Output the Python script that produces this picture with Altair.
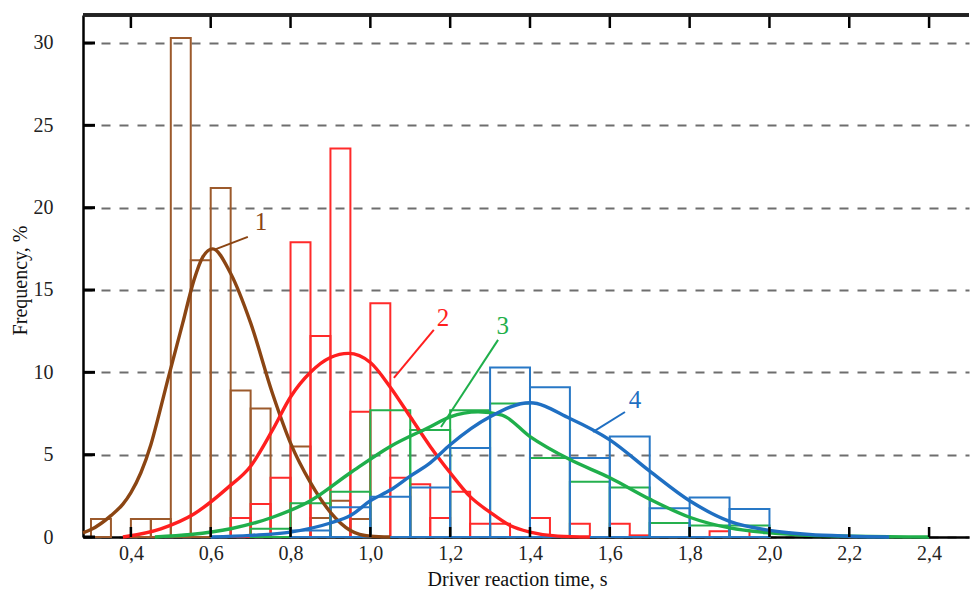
import altair as alt
import pandas as pd

# ---------------- data ----------------
series_names = ["1", "2", "3", "4"]
curve_colors = ["#8B4513", "#FF1F1F", "#1FAF4B", "#1F6FC2"]
bar_colors = ["#9C5A2C", "#FF2A2A", "#25B04E", "#2878C6"]

# histograms (bin start, bin value %)
brown_bin_w = 0.05
brown_start = [0.30, 0.40, 0.45, 0.50, 0.55, 0.60, 0.65, 0.70, 0.80, 0.85, 0.90, 0.95]
brown_value = [1.1, 1.1, 1.1, 30.3, 16.8, 21.2, 8.9, 7.8, 5.5, 1.15, 2.2, 1.1]

red_bin_w = 0.05
red_start = [0.65, 0.70, 0.75, 0.80, 0.85, 0.90, 0.95, 1.00, 1.05, 1.10, 1.15, 1.20, 1.25,
             1.30, 1.40, 1.50, 1.60, 1.65, 1.85, 1.95]
red_value = [1.15, 2.0, 3.6, 17.9, 12.2, 23.6, 7.6, 14.2, 3.6, 3.2, 1.15, 2.75, 0.8,
             0.8, 1.15, 0.8, 0.8, 0.1, 0.35, 0.35]

green_bin_w = 0.1
green_start = [0.7, 0.8, 0.9, 1.0, 1.1, 1.2, 1.3, 1.4, 1.5, 1.6, 1.7, 1.8, 1.9]
green_value = [0.5, 2.05, 2.75, 7.7, 6.5, 7.7, 8.1, 4.8, 3.35, 3.0, 0.85, 0.7, 0.7]

blue_bin_w = 0.1
blue_start = [0.8, 0.9, 1.0, 1.1, 1.2, 1.3, 1.4, 1.5, 1.6, 1.7, 1.8, 1.9]
blue_value = [0.4, 1.8, 2.45, 3.0, 5.4, 10.3, 9.1, 4.8, 6.1, 1.75, 2.4, 1.7]

# fitted curves
brown_cx = [0.28, 0.30, 0.35, 0.38, 0.40, 0.425, 0.45, 0.47, 0.493, 0.53, 0.558, 0.58,
            0.605, 0.65, 0.70, 0.755, 0.80, 0.85, 0.90, 0.95, 1.00, 1.05]
brown_cy = [0.25, 0.45, 1.3, 2.0, 2.7, 3.9, 5.6, 7.4, 9.6, 13.0, 15.6, 17.0,
            17.5, 16.0, 13.0, 8.7, 5.7, 3.3, 1.5, 0.4, 0.05, 0.0]

red_cx = [0.38, 0.475, 0.558, 0.643, 0.70, 0.755, 0.80, 0.85, 0.90, 0.945, 1.00, 1.05,
          1.10, 1.15, 1.20, 1.25, 1.30, 1.35, 1.40, 1.47, 1.55]
red_cy = [0.0, 0.5, 1.4, 3.0, 4.3, 6.5, 8.5, 10.0, 10.9, 11.15, 10.6, 9.1,
          7.3, 5.5, 3.9, 2.45, 1.5, 0.7, 0.3, 0.05, 0.0]

green_cx = [0.46, 0.55, 0.65, 0.755, 0.85, 0.95, 1.05, 1.15, 1.20, 1.27, 1.33, 1.40,
            1.50, 1.60, 1.70, 1.80, 1.90, 2.00, 2.10, 2.20, 2.40]
green_cy = [0.0, 0.15, 0.5, 1.2, 2.2, 3.9, 5.5, 6.7, 7.3, 7.6, 7.4, 6.1,
            4.7, 3.6, 2.3, 1.2, 0.55, 0.25, 0.1, 0.05, 0.0]

blue_cx = [0.60, 0.70, 0.80, 0.90, 0.95, 1.00, 1.05, 1.10, 1.15, 1.20, 1.30, 1.40, 1.50,
           1.60, 1.70, 1.80, 1.90, 2.00, 2.10, 2.20, 2.30]
blue_cy = [0.0, 0.1, 0.3, 0.85, 1.3, 2.2, 2.85, 3.7, 4.5, 5.6, 7.3, 8.15, 7.2,
           5.9, 4.0, 2.2, 0.95, 0.4, 0.15, 0.05, 0.0]

# curve labels with leader lines
label_text = ["1", "2", "3", "4"]
leader_x1 = [0.608, 1.059, 1.177, 1.558]
leader_y1 = [17.44, 9.66, 6.68, 6.38]
leader_x2 = [0.693, 1.159, 1.320, 1.638]
leader_y2 = [18.23, 12.58, 11.97, 7.59]
label_x = [0.726, 1.182, 1.332, 1.663]
label_y = [19.1, 13.3, 12.8, 8.3]

x_ticks = [0.4, 0.6, 0.8, 1.0, 1.2, 1.4, 1.6, 1.8, 2.0, 2.2, 2.4]
y_ticks = [0, 5, 10, 15, 20, 25, 30]

x_title = "Driver reaction time, s"
y_title = "Frequency, %"

# ---------------- tables ----------------
rows = []
for name, starts, vals, w in [
    ("1", brown_start, brown_value, brown_bin_w),
    ("2", red_start, red_value, red_bin_w),
    ("3", green_start, green_value, green_bin_w),
    ("4", blue_start, blue_value, blue_bin_w),
]:
    for s, v in zip(starts, vals):
        rows.append({"series": name, "start": s, "end": round(s + w, 3), "value": v, "base": 0})
bars_df = pd.DataFrame(rows)

crow = []
for name, xs_, ys_ in [
    ("1", brown_cx, brown_cy),
    ("2", red_cx, red_cy),
    ("3", green_cx, green_cy),
    ("4", blue_cx, blue_cy),
]:
    for i, (a, b) in enumerate(zip(xs_, ys_)):
        crow.append({"series": name, "t": a, "f": b, "i": i})
curves_df = pd.DataFrame(crow)

labels_df = pd.DataFrame({
    "series": label_text, "x1": leader_x1, "y1": leader_y1, "x2": leader_x2,
    "y2": leader_y2, "lx": label_x, "ly": label_y,
})
xt_df = pd.DataFrame({"v": x_ticks})
yt_df = pd.DataFrame({"v": y_ticks})

# ---------------- chart ----------------
W, H = 886, 522
FONT = "Liberation Serif"
xs = alt.Scale(domain=[0.28, 2.5], nice=False, zero=False)
ys = alt.Scale(domain=[0, 31.7], nice=False, zero=False)
cs = alt.Scale(domain=series_names, range=curve_colors)
bs = alt.Scale(domain=series_names, range=bar_colors)

x_axis = alt.Axis(
    values=x_ticks, grid=False, ticks=False, domain=True, domainColor="black",
    domainWidth=2.5, labelExpr="replace(format(datum.value, '.1f'), '.', ',')",
    labelFont=FONT, labelFontSize=20, labelColor="#222", labelPadding=6,
    title=x_title, titleFont=FONT, titleFontSize=20, titleFontWeight="normal",
    titleColor="#111", titleX=434, titleY=48, titleBaseline="alphabetic",
)
y_axis = alt.Axis(
    values=y_ticks, grid=True, gridDash=[9, 9], gridColor="#6e6e6e", gridWidth=2,
    ticks=False, domain=True, domainColor="black", domainWidth=2.5,
    labelFont=FONT, labelFontSize=20, labelColor="#222", labelPadding=30,
    title=y_title, titleFont=FONT, titleFontSize=20, titleFontWeight="normal",
    titleColor="#111", titleX=-57, titleY=265, titleBaseline="alphabetic",
)


def X(field):
    return alt.X(field, type="quantitative", scale=xs, axis=x_axis)


def Y(field):
    return alt.Y(field, type="quantitative", scale=ys, axis=y_axis)


bars = alt.Chart(bars_df).mark_rect(filled=False, strokeWidth=2).encode(
    x=X("start"), x2="end", y=Y("base"), y2="value",
    stroke=alt.Stroke("series:N", scale=bs, legend=None),
)

curves = alt.Chart(curves_df).mark_line(strokeWidth=3.4, interpolate="monotone").encode(
    x=X("t"), y=Y("f"),
    color=alt.Color("series:N", scale=cs, legend=None),
    order="i:Q",
)

leaders = alt.Chart(labels_df).mark_rule(strokeWidth=2).encode(
    x=X("x1"), y=Y("y1"), x2="x2", y2="y2",
    color=alt.Color("series:N", scale=cs, legend=None),
)

texts = alt.Chart(labels_df).mark_text(font=FONT, fontSize=25, align="center", baseline="middle").encode(
    x=X("lx"), y=Y("ly"), text="series:N",
    color=alt.Color("series:N", scale=cs, legend=None),
)

left_ticks = alt.Chart(yt_df).mark_rule(color="black", strokeWidth=3).encode(
    y=Y("v"), x=alt.value(0), x2=alt.value(12)
)
bottom_ticks = alt.Chart(xt_df).mark_rule(color="black", strokeWidth=2.5).encode(
    x=X("v"), y=alt.value(H), y2=alt.value(H - 10)
)
top_ticks = alt.Chart(xt_df).mark_rule(color="black", strokeWidth=2.5).encode(
    x=X("v"), y=alt.value(0), y2=alt.value(13)
)
top_border = alt.Chart(xt_df).mark_rule(color="#222", strokeWidth=2.5).encode(
    x=alt.value(0), x2=alt.value(W), y=alt.value(0)
)

chart = alt.layer(
    bars, curves, leaders, texts, left_ticks, bottom_ticks, top_ticks, top_border
).resolve_scale(color="independent", stroke="independent").properties(
    width=W, height=H,
    autosize=alt.AutoSizeParams(type="none"),
    padding={"left": 83, "top": 15, "right": 1, "bottom": 55},
    background="white",
).configure_view(stroke=None)

chart.save("out.html", embed_options={"renderer": "svg", "actions": False})
